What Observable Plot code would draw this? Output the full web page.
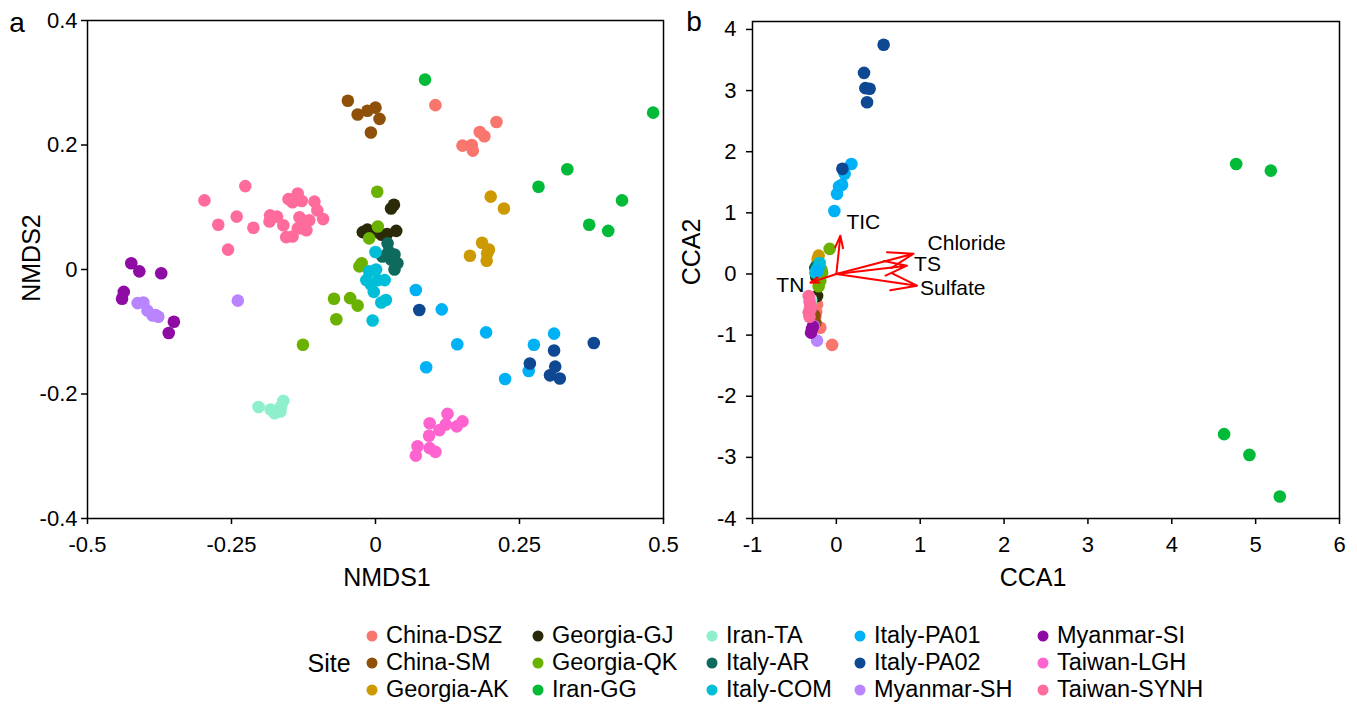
<!DOCTYPE html>
<html><head><meta charset="utf-8">
<script src="https://cdn.jsdelivr.net/npm/d3@7"></script>
<script src="https://cdn.jsdelivr.net/npm/@observablehq/plot@0.6"></script>
<style>
body{margin:0;background:#fff;font-family:"Liberation Sans",Arial,sans-serif;}
#wrap{position:relative;width:1357px;height:706px;overflow:hidden;background:#fff;}
.abs{position:absolute;white-space:nowrap;color:#000;line-height:1;}
.c{transform:translate(-50%,-50%);}
.rot{transform:translate(-50%,-50%) rotate(-90deg);}
.leg{position:absolute;white-space:nowrap;color:#000;font-size:23.5px;line-height:1;transform:translateY(-50%);}
.dot{position:absolute;width:11px;height:11px;border-radius:50%;transform:translate(-50%,-50%);}
#wrap svg [aria-label$="tick"] path, #wrap svg [aria-label$="axis"] line{stroke-width:1.5px;}
</style></head>
<body><div id="wrap"></div>
<script>
// ---------- categories & colours ----------
const sites = ["China-DSZ","China-SM","Georgia-AK","Georgia-GJ","Georgia-QK","Iran-GG","Iran-TA","Italy-AR","Italy-COM","Italy-PA01","Italy-PA02","Myanmar-SH","Myanmar-SI","Taiwan-LGH","Taiwan-SYNH"];
const siteColors = ["#F8766D","#8F5109","#CC9A00","#2A2A08","#6BB100","#00BA38","#8EEFCC","#0E6A5D","#00BED8","#00B2F5","#0E4792","#B985FF","#8E0CA3","#FF63D0","#FF6C9C"];

// ---------- panel a: NMDS (NMDS1, NMDS2) ----------
const nmds_ChinaDSZ = [[0.104,0.264],[0.210,0.237],[0.181,0.221],[0.189,0.214],[0.151,0.199],[0.167,0.200],[0.169,0.191]];
const nmds_ChinaSM = [[-0.048,0.271],[-0.031,0.249],[-0.014,0.255],[0.000,0.260],[0.007,0.242],[-0.008,0.220]];
const nmds_GeorgiaAK = [[0.200,0.117],[0.223,0.098],[0.185,0.043],[0.194,0.026],[0.164,0.022],[0.193,0.014],[0.197,0.032]];
const nmds_GeorgiaGJ = [[0.027,0.098],[0.032,0.104],[-0.022,0.060],[-0.014,0.064],[0.000,0.061],[0.010,0.056],[0.020,0.057],[0.036,0.062]];
const nmds_GeorgiaQK = [[0.003,0.125],[0.004,0.069],[-0.011,0.050],[-0.024,0.010],[-0.028,0.005],[-0.072,-0.047],[-0.044,-0.046],[-0.031,-0.058],[-0.068,-0.080],[-0.126,-0.121]];
const nmds_IranGG = [[0.086,0.305],[0.482,0.252],[0.333,0.161],[0.283,0.133],[0.428,0.111],[0.371,0.072],[0.404,0.062]];
const nmds_IranTA = [[-0.203,-0.221],[-0.182,-0.225],[-0.175,-0.231],[-0.165,-0.228],[-0.160,-0.211],[-0.164,-0.220]];
const nmds_ItalyAR = [[0.021,0.042],[0.023,0.029],[0.012,0.021],[0.033,0.024],[0.038,0.010],[0.033,0.000],[0.027,0.016]];
const nmds_ItalyCOM = [[0.000,0.028],[-0.011,-0.003],[0.001,0.000],[-0.016,-0.017],[0.004,-0.017],[0.016,-0.017],[-0.003,-0.036],[0.010,-0.053],[0.018,-0.049],[-0.005,-0.082],[-0.008,-0.024]];
const nmds_ItalyPA01 = [[0.070,-0.033],[0.115,-0.064],[0.192,-0.101],[0.142,-0.120],[0.088,-0.157],[0.225,-0.176],[0.275,-0.121],[0.310,-0.103],[0.266,-0.163]];
const nmds_ItalyPA02 = [[0.076,-0.065],[0.379,-0.118],[0.310,-0.130],[0.268,-0.151],[0.312,-0.156],[0.303,-0.170],[0.320,-0.175]];
const nmds_MyanmarSH = [[-0.413,-0.054],[-0.403,-0.053],[-0.396,-0.066],[-0.387,-0.074],[-0.377,-0.076],[-0.382,-0.073],[-0.239,-0.050]];
const nmds_MyanmarSI = [[-0.424,0.010],[-0.410,-0.003],[-0.372,-0.006],[-0.437,-0.036],[-0.440,-0.047],[-0.350,-0.084],[-0.359,-0.102]];
const nmds_TaiwanLGH = [[0.125,-0.232],[0.151,-0.244],[0.141,-0.252],[0.122,-0.249],[0.111,-0.258],[0.094,-0.247],[0.093,-0.267],[0.073,-0.284],[0.070,-0.299],[0.094,-0.287],[0.104,-0.293]];
const nmds_TaiwanSYNH = [[-0.226,0.134],[-0.297,0.111],[-0.241,0.085],[-0.273,0.072],[-0.212,0.067],[-0.256,0.032],[-0.183,0.087],[-0.171,0.085],[-0.184,0.077],[-0.160,0.071],[-0.151,0.113],[-0.135,0.122],[-0.128,0.110],[-0.144,0.108],[-0.106,0.109],[-0.101,0.095],[-0.091,0.081],[-0.132,0.084],[-0.115,0.079],[-0.127,0.066],[-0.120,0.063],[-0.155,0.052],[-0.144,0.053],[-0.135,0.066]];

// ---------- panel b: CCA (CCA1, CCA2) ----------
const cca_ChinaDSZ = [[-0.24,-0.62],[-0.25,-0.70],[-0.230,-0.50],[-0.191,-0.88],[-0.051,-1.16]];
const cca_ChinaSM = [[-0.26,-0.68],[-0.271,-0.74],[-0.250,-0.80]];
const cca_GeorgiaAK = [[-0.22,0.20],[-0.211,0.30],[-0.223,0.24]];
const cca_GeorgiaGJ = [[-0.230,-0.36],[-0.24,-0.05],[-0.25,0.10]];
const cca_GeorgiaQK = [[-0.080,0.41],[-0.18,0.08],[-0.170,0.02],[-0.191,-0.11],[-0.211,-0.20]];
const cca_IranGG = [[4.768,1.80],[5.181,1.69],[4.624,-2.62],[4.926,-2.96],[5.288,-3.64]];
const cca_IranTA = [[-0.30,-0.42],[-0.310,-0.47],[-0.318,-0.55]];
const cca_ItalyAR = [[-0.24,0.12],[-0.23,0.06]];
const cca_ItalyCOM = [[-0.21,0.12],[-0.199,0.18],[-0.230,0.08],[-0.250,0.02]];
const cca_ItalyPA01 = [[0.179,1.80],[0.099,1.64],[0.068,1.46],[0.032,1.43],[0.008,1.31],[-0.024,1.03],[-0.22,0.05]];
const cca_ItalyPA02 = [[0.564,3.75],[0.330,3.29],[0.346,3.04],[0.397,3.03],[0.366,2.81],[0.072,1.72]];
const cca_MyanmarSH = [[-0.271,-0.85],[-0.230,-1.09]];
const cca_MyanmarSI = [[-0.28,-0.86],[-0.290,-0.90],[-0.302,-0.96]];
const cca_TaiwanLGH = [[-0.32,-0.45],[-0.31,-0.58]];
const cca_TaiwanSYNH = [[-0.330,-0.36],[-0.310,-0.52],[-0.330,-0.63],[-0.32,-0.70]];

// environmental vectors (CCA biplot arrows)
const envNames = ["TIC","Chloride","TS","Sulfate","TN"];
const envX = [0.048,0.921,0.843,0.962,-0.310];
const envY = [0.626,0.332,0.136,-0.191,-0.142];

// ---------- axes ----------
const nmdsXTicks = [-0.5,-0.25,0,0.25,0.5];
const nmdsXLabels = ["-0.5","-0.25","0","0.25","0.5"];
const nmdsYTicks = [-0.4,-0.2,0,0.2,0.4];
const nmdsYLabels = ["-0.4","-0.2","0","0.2","0.4"];
const ccaXTicks = [-1,0,1,2,3,4,5,6];
const ccaXLabels = ["-1","0","1","2","3","4","5","6"];
const ccaYTicks = [-4,-3,-2,-1,0,1,2,3,4];
const ccaYLabels = ["-4","-3","-2","-1","0","1","2","3","4"];

// ---------- build tables ----------
const nmdsSets = [nmds_ChinaDSZ,nmds_ChinaSM,nmds_GeorgiaAK,nmds_GeorgiaGJ,nmds_GeorgiaQK,nmds_IranGG,nmds_IranTA,nmds_ItalyAR,nmds_ItalyCOM,nmds_ItalyPA01,nmds_ItalyPA02,nmds_MyanmarSH,nmds_MyanmarSI,nmds_TaiwanLGH,nmds_TaiwanSYNH];
const ccaSets = [cca_ChinaDSZ,cca_ChinaSM,cca_GeorgiaAK,cca_GeorgiaGJ,cca_GeorgiaQK,cca_IranGG,cca_IranTA,cca_ItalyAR,cca_ItalyCOM,cca_ItalyPA01,cca_ItalyPA02,cca_MyanmarSH,cca_MyanmarSI,cca_TaiwanLGH,cca_TaiwanSYNH];
const toRows = sets => sets.flatMap((pts, i) => pts.map(([x, y]) => ({site: sites[i], x, y})));
const nmdsData = toRows(nmdsSets);
const ccaData = toRows(ccaSets);
const envData = envNames.map((name, i) => ({name, x: envX[i], y: envY[i]}));

const fmt = (ticks, labels) => d => labels[ticks.indexOf(d)];
const baseStyle = {fontFamily: "'Liberation Sans', Arial, sans-serif", fontSize: "22px", color: "#000", background: "transparent", overflow: "visible"};
const colorScale = {domain: sites, range: siteColors};

const plotA = Plot.plot({
  width: 680, height: 600,
  marginLeft: 87, marginRight: 17, marginTop: 20, marginBottom: 82,
  style: baseStyle,
  x: {domain: [-0.5, 0.5], ticks: nmdsXTicks, tickFormat: fmt(nmdsXTicks, nmdsXLabels), tickSize: 6, tickPadding: 12, label: null},
  y: {domain: [-0.4, 0.4], ticks: nmdsYTicks, tickFormat: fmt(nmdsYTicks, nmdsYLabels), tickSize: 6, tickPadding: 4, label: null},
  color: colorScale,
  marks: [
    Plot.dot(nmdsData, {x: "x", y: "y", fill: "site", r: 6.3}),
    Plot.frame({stroke: "#000", strokeWidth: 1.5})
  ]
});

// label offsets for the arrow labels (styling only)
const envLabelPos = {TIC: [6, -13, "start"], Chloride: [14, -10, "start"], TS: [7, -1, "start"], Sulfate: [3, 3, "start"], TN: [-6, 3, "end"]};

const plotB = Plot.plot({
  width: 677, height: 600,
  marginLeft: 72, marginRight: 18, marginTop: 21, marginBottom: 82,
  style: baseStyle,
  x: {domain: [-1, 6], ticks: ccaXTicks, tickFormat: fmt(ccaXTicks, ccaXLabels), tickSize: 6, tickPadding: 12, label: null},
  y: {domain: [-4, 4.13], ticks: ccaYTicks, tickFormat: fmt(ccaYTicks, ccaYLabels), tickSize: 6, tickPadding: 10, label: null},
  color: colorScale,
  marks: [
    Plot.dot(ccaData, {x: "x", y: "y", fill: "site", r: 6.3}),
    Plot.arrow(envData, {x1: () => 0, y1: () => 0, x2: "x", y2: "y", stroke: "#FF0000", strokeWidth: 2, headLength: 40, headAngle: 36, bend: 0}),
    ...envNames.map(n => Plot.text(envData.filter(d => d.name === n), {
      x: "x", y: "y", text: "name", dx: envLabelPos[n][0], dy: envLabelPos[n][1],
      textAnchor: envLabelPos[n][2], fontSize: 21, fill: "#000"
    })),
    Plot.frame({stroke: "#000", strokeWidth: 1.5})
  ]
});

const wrap = document.getElementById("wrap");
plotA.style.position = "absolute"; plotA.style.left = "0px"; plotA.style.top = "0px";
plotB.style.position = "absolute"; plotB.style.left = "680px"; plotB.style.top = "0px";
wrap.appendChild(plotA);
wrap.appendChild(plotB);

function addText(txt, x, y, size, cls) {
  const d = document.createElement("div");
  d.className = "abs " + cls;
  d.style.left = x + "px"; d.style.top = y + "px"; d.style.fontSize = size + "px";
  d.textContent = txt;
  wrap.appendChild(d);
}
addText("a", 17, 23, 28, "c");
addText("b", 694, 22, 28, "c");
addText("NMDS2", 31, 258, 25, "rot");
addText("CCA2", 691, 252, 25, "rot");
addText("NMDS1", 387, 577, 25, "c");
addText("CCA1", 1033, 577, 25, "c");

// ---------- legend ----------
addText("Site", 329, 663, 25, "c");
const legCols = [372, 538, 712, 860, 1043];
const legRows = [636, 663, 690];
sites.forEach((s, i) => {
  const cx = legCols[Math.floor(i / 3)], cy = legRows[i % 3];
  const dot = document.createElement("div");
  dot.className = "dot";
  dot.style.left = cx + "px"; dot.style.top = cy + "px"; dot.style.background = siteColors[i];
  wrap.appendChild(dot);
  const t = document.createElement("div");
  t.className = "leg";
  t.style.left = (cx + 14) + "px"; t.style.top = cy + "px";
  t.textContent = s;
  wrap.appendChild(t);
});
</script>
</body></html>
